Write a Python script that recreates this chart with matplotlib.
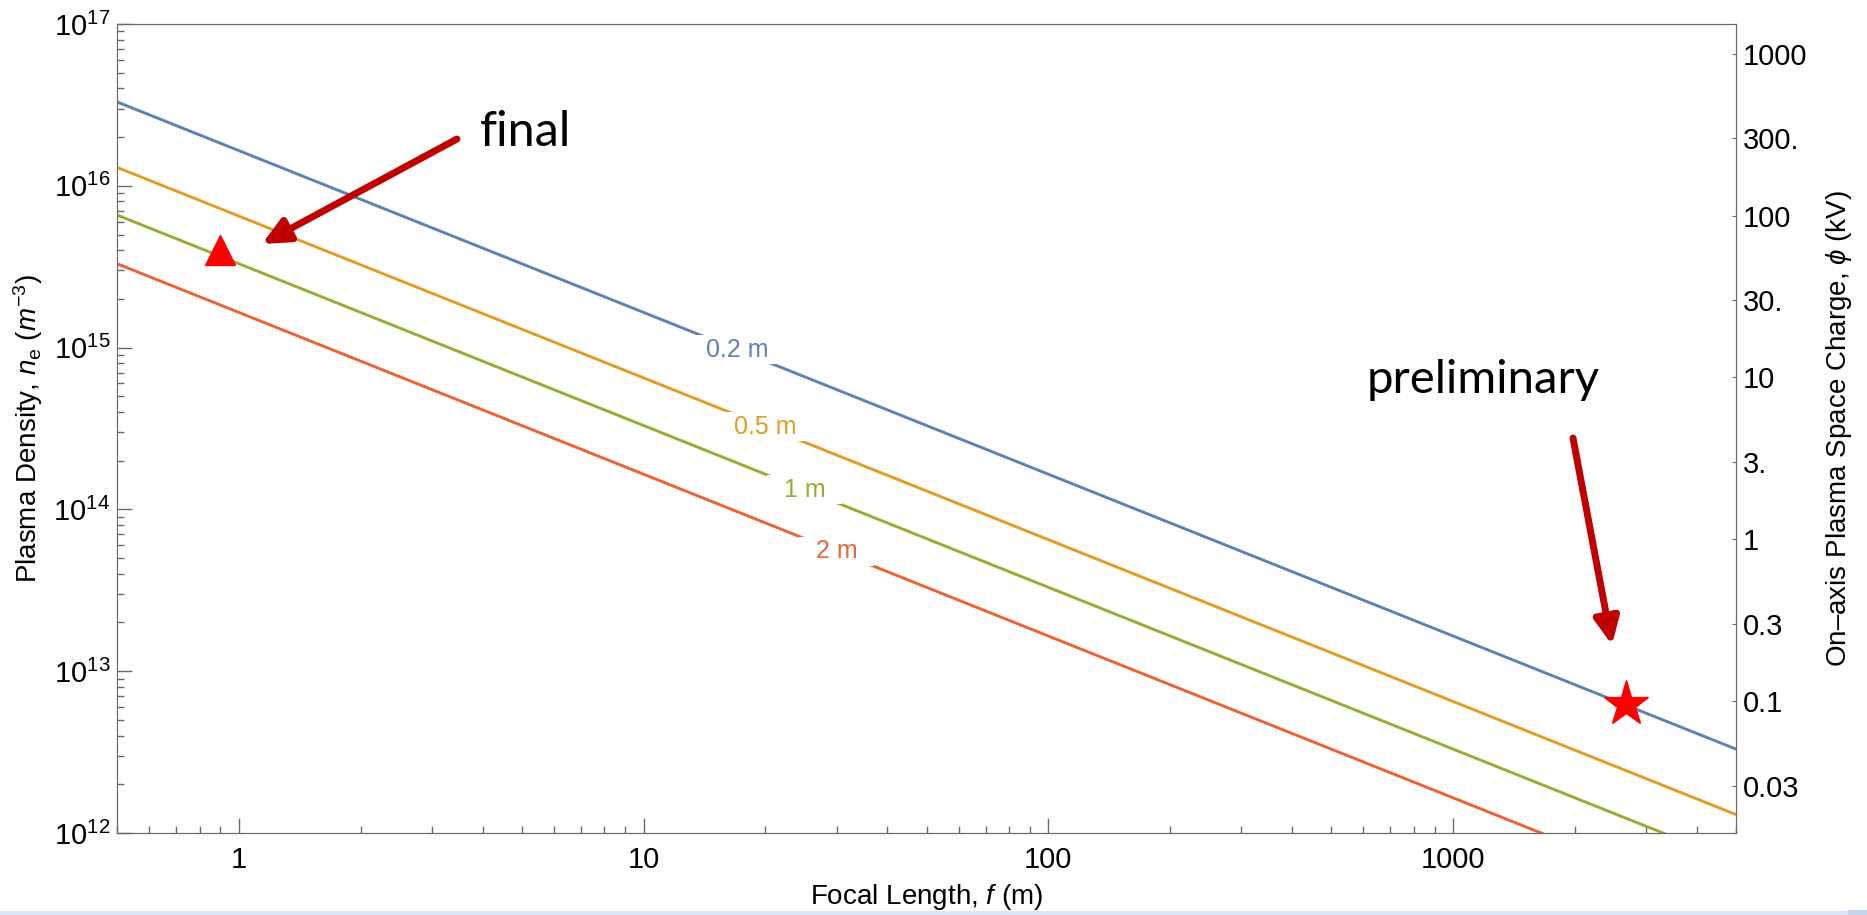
import numpy as np
import matplotlib
matplotlib.use("Agg")
import matplotlib.pyplot as plt
from matplotlib.ticker import NullFormatter, FixedLocator, NullLocator
from matplotlib.patches import Rectangle

plt.rcParams['font.family'] = ['Liberation Sans', 'DejaVu Sans']
plt.rcParams['mathtext.fontset'] = 'custom'
plt.rcParams['mathtext.rm'] = 'Liberation Sans'
plt.rcParams['mathtext.it'] = 'Liberation Sans:italic'
plt.rcParams['mathtext.bf'] = 'Liberation Sans:bold'

# focal length (m) and plasma density (m^-3)
focal = [0.5, 1, 10, 100, 1000, 5000]
n_02 = [3.3e16, 1.65e16, 1.65e15, 1.65e14, 1.65e13, 3.3e12]
n_05 = [1.3e16, 6.5e15, 6.5e14, 6.5e13, 6.5e12, 1.3e12]
n_1 = [6.6e15, 3.3e15, 3.3e14, 3.3e13, 3.3e12, 6.6e11]
n_2 = [3.3e15, 1.65e15, 1.65e14, 1.65e13, 1.65e12, 3.3e11]
names = ['0.2 m', '0.5 m', '1 m', '2 m']
colors = ['#5E81B5', '#E19C24', '#8FB032', '#EB6235']
label_f = [17, 20, 25, 30]

# markers
final_f, final_n = 0.9, 4.0e15
prelim_f, prelim_n = 2680, 6.3e12

# right axis: on-axis space charge (kV)
phi_ticks = [1000, 300, 100, 30, 10, 3, 1, 0.3, 0.1, 0.03]
phi_labels = ['1000', '300.', '100', '30.', '10', '3.', '1', '0.3', '0.1', '0.03']
n_per_kV = 6.55e13

W, H = 1867, 915
fig = plt.figure(figsize=(W / 100, H / 100), dpi=100)
ax = fig.add_axes([117 / W, 1 - 833 / H, (1736 - 117) / W, (833 - 24) / H])

series = [n_02, n_05, n_1, n_2]
for vals, name, col, lf in zip(series, names, colors, label_f):
    ax.plot(focal, vals, color=col, lw=2.1, zorder=2)
    ly = 10 ** np.interp(np.log10(lf), np.log10(focal), np.log10(vals))
    ax.text(lf, ly, '  ' + name + '  ', color=col, fontsize=18, ha='center', va='center',
            zorder=3, bbox=dict(boxstyle='square,pad=0.1', fc='white', ec='none'))

ax.plot([final_f], [final_n], marker='^', color='red', ms=21, zorder=4)
ax.plot([prelim_f], [prelim_n], marker='*', color='red', ms=34, mec='red', zorder=4)

ax.set_xscale('log')
ax.set_yscale('log')
ax.set_xlim(0.5, 5000)
ax.set_ylim(1e12, 1e17)

gray = '#6a6a6a'
for s in ax.spines.values():
    s.set_color(gray)
ax.tick_params(which='major', direction='in', length=11, width=1, color=gray,
               labelsize=21, top=False, right=False)
ax.tick_params(which='minor', direction='in', length=5, width=1, color=gray,
               top=False, right=False)
ax.tick_params(axis='x', which='major', pad=9)
ax.tick_params(axis='y', which='major', pad=5)
ax.xaxis.set_major_locator(FixedLocator([1, 10, 100, 1000]))
ax.set_xticklabels(['1', '10', '100', '1000'])
ax.xaxis.set_minor_formatter(NullFormatter())
ax.yaxis.set_minor_formatter(NullFormatter())

ax.set_xlabel(r'Focal Length, $f$ (m)', fontsize=20, labelpad=6)
ax.set_ylabel(r'Plasma Density, $n_\mathrm{e}$ ($m^{-3}$)', fontsize=20, labelpad=6)

ax2 = ax.twinx()
ax2.set_yscale('log')
ax2.set_ylim(1e12 / n_per_kV, 1e17 / n_per_kV)
ax2.yaxis.set_major_locator(FixedLocator(phi_ticks))
ax2.yaxis.set_minor_locator(NullLocator())
ax2.set_yticklabels(phi_labels)
ax2.tick_params(axis='y', direction='in', length=3, color=gray, labelsize=21, pad=5)
for s in ax2.spines.values():
    s.set_color(gray)
ax2.set_ylabel(r'On$\endash$axis Plasma Space Charge, $\phi$ (kV)', fontsize=20, labelpad=12)

# annotations
arrow_col = '#C00000'
ap = dict(arrowstyle='-|>,head_length=1.6,head_width=0.75', color=arrow_col, lw=5,
          shrinkA=0, shrinkB=0)
fig_h = H
ax.annotate('', xy=(262, fig_h - 244), xytext=(457, fig_h - 139),
            xycoords='figure pixels', textcoords='figure pixels', arrowprops=ap)
ax.annotate('', xy=(1612, fig_h - 645), xytext=(1573, fig_h - 438),
            xycoords='figure pixels', textcoords='figure pixels', arrowprops=ap)
fig.text(480 / W, 1 - 146 / H, 'final', fontsize=35, family='Lato', ha='left', va='baseline')
fig.text(1367 / W, 1 - 393 / H, 'preliminary', fontsize=34, family='Lato', ha='left', va='baseline')

# light strip at the bottom of the slide
fig.patches.append(Rectangle((0, 0), 1, 4 / H, transform=fig.transFigure,
                             fc='#dde6f4', ec='none'))
fig.patches.append(Rectangle((1848 / W, 0), 19 / W, 5 / H, transform=fig.transFigure,
                             fc='#c5d5ee', ec='none'))

fig.savefig('out.png', dpi=100)
